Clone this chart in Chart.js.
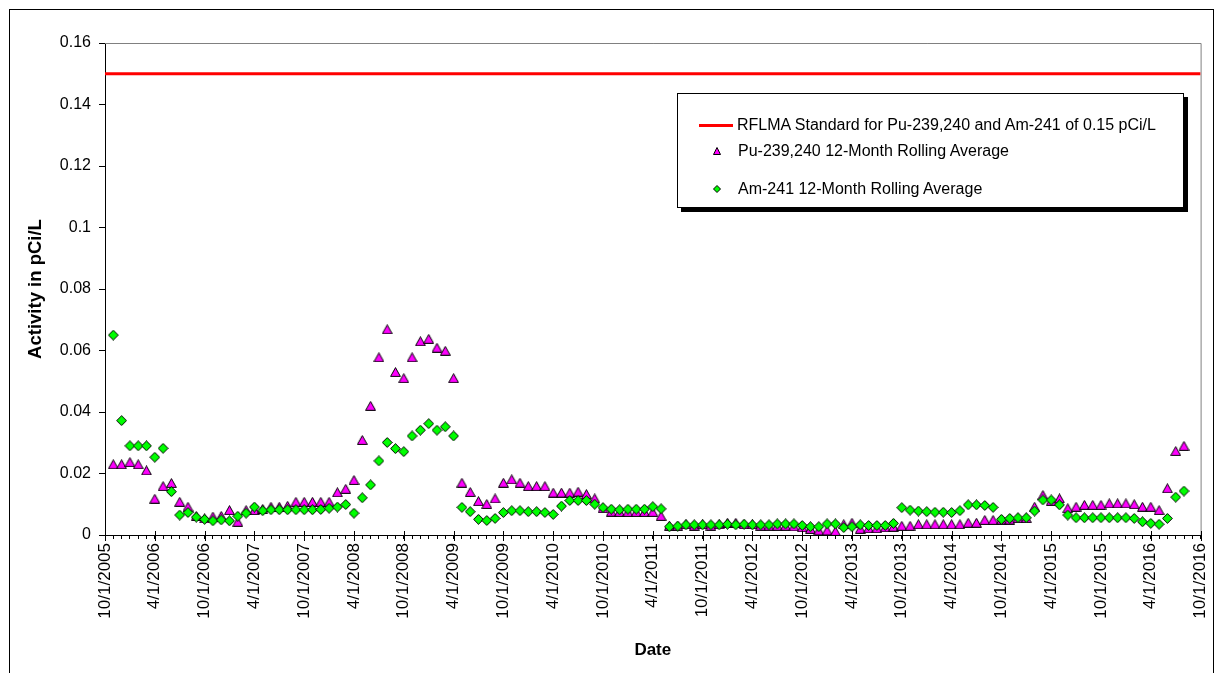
<!DOCTYPE html>
<html>
<head>
<meta charset="utf-8">
<title>Pu-239,240 and Am-241 12-Month Rolling Averages</title>
<script src="https://cdn.jsdelivr.net/npm/chart.js@4.4.1/dist/chart.umd.min.js"></script>
<style>
  html, body { margin: 0; padding: 0; background: #fff; }
  #wrap { position: relative; width: 1225px; height: 673px; overflow: hidden;
          font-family: "Liberation Sans", Arial, sans-serif; }
  #frame { position: absolute; left: 9px; top: 9px; width: 1203px; height: 700px;
           border: 1px solid #000; }
  #chart { position: absolute; left: 0; top: 0; }
  #legend { position: absolute; left: 677px; top: 93px; width: 505px; height: 113px;
            border: 1px solid #000; background: #fff; box-shadow: 4px 4px 0 #000; }
  .lg-text { position: absolute; left: 60px; height: 20px; line-height: 20px;
             font-size: 16px; color: #000; white-space: nowrap; }
  .lg-mark { position: absolute; }
</style>
</head>
<body>
<div id="wrap">
  <div id="frame"></div>
  <canvas id="chart" width="1225" height="673"></canvas>
  <div id="legend">
    <div class="lg-mark" style="left:21px; top:30px; width:34px; height:3px; background:#ff0000;"></div>
    <div class="lg-text" style="top:21px; left:59px;">RFLMA Standard for Pu-239,240 and Am-241 of 0.15 pCi/L</div>
    <svg class="lg-mark" style="left:35px; top:53px;" width="8" height="8" viewBox="0 0 8 8">
      <polygon points="4,0.5 7.5,7.5 0.5,7.5" fill="#ff00ff" stroke="#000" stroke-width="1"/>
    </svg>
    <div class="lg-text" style="top:47px;">Pu-239,240 12-Month Rolling Average</div>
    <svg class="lg-mark" style="left:35px; top:91px;" width="8" height="8" viewBox="0 0 8 8">
      <polygon points="4,0.5 7.5,4 4,7.5 0.5,4" fill="#00ff00" stroke="#000" stroke-width="1"/>
    </svg>
    <div class="lg-text" style="top:85px;">Am-241 12-Month Rolling Average</div>
  </div>
</div>
<script>
// Date axis tick labels, every six months
const xTickLabels = [
  '10/1/2005', '4/1/2006', '10/1/2006', '4/1/2007', '10/1/2007', '4/1/2008',
  '10/1/2008', '4/1/2009', '10/1/2009', '4/1/2010', '10/1/2010', '4/1/2011',
  '10/1/2011', '4/1/2012', '10/1/2012', '4/1/2013', '10/1/2013', '4/1/2014',
  '10/1/2014', '4/1/2015', '10/1/2015', '4/1/2016', '10/1/2016'
];
const axisStart = { year: 2005, month: 10 };
const axisMonths = 132;

// Monthly sample dates, 11/1/2005 through 8/1/2016
const sampleDates = [];
for (let y = 2005, m = 11; sampleDates.length < 130; m++) {
  if (m > 12) { m = 1; y++; }
  sampleDates.push(m + '/1/' + y);
}

// Pu-239,240 12-month rolling average (pCi/L)
const puRolling = [
  0.023, 0.023, 0.0237, 0.023, 0.021, 0.0118, 0.0159, 0.0169, 0.0108, 0.0092,
  0.0062, 0.0054, 0.006, 0.0062, 0.0081, 0.0043, 0.0081, 0.0081, 0.0085, 0.0092,
  0.0092, 0.0095, 0.0108, 0.0108, 0.0108, 0.0108, 0.0108, 0.0139, 0.015, 0.0179,
  0.0309, 0.042, 0.0578, 0.0669,
  0.053, 0.051, 0.0578, 0.063, 0.0638, 0.0609, 0.0599, 0.051,
  0.017, 0.014, 0.011, 0.0101, 0.0119, 0.017, 0.0181, 0.017, 0.0159, 0.0159,
  0.0159, 0.0138, 0.0138, 0.0138, 0.0141, 0.0133, 0.0119,
  0.0087, 0.0076, 0.0075, 0.0075, 0.0075, 0.0075, 0.0075, 0.0062,
  0.003, 0.003, 0.0035, 0.003, 0.0035, 0.003, 0.0035, 0.004, 0.004, 0.0035,
  0.0035, 0.003, 0.003, 0.003, 0.003, 0.0028, 0.0025, 0.002, 0.0015, 0.0015,
  0.0012, 0.0035, 0.004, 0.002, 0.0022, 0.0022, 0.0025, 0.0027, 0.003, 0.003,
  0.0035, 0.0035, 0.0035, 0.0035, 0.0035, 0.0035, 0.004, 0.004, 0.0049, 0.0049,
  0.005,
  0.005, 0.0055, 0.0055, 0.0092, 0.013, 0.0111, 0.0119, 0.0087, 0.0092, 0.0098,
  0.0098, 0.0098, 0.0103, 0.0103, 0.0103, 0.01, 0.0092, 0.0092, 0.0081, 0.0152,
  0.0273, 0.029
];

// Am-241 12-month rolling average (pCi/L)
const amRolling = [
  0.065, 0.0372, 0.029, 0.029, 0.029, 0.0253, 0.0282, 0.0141, 0.0065, 0.0073,
  0.0058, 0.0051, 0.0046, 0.0049, 0.0046, 0.0061, 0.0071, 0.0091, 0.0079, 0.0082,
  0.0082, 0.0082, 0.0082, 0.0082, 0.0082, 0.0083, 0.0087, 0.0091, 0.0099, 0.0071,
  0.0121, 0.0163, 0.0241, 0.0301,
  0.0281, 0.0271, 0.0322, 0.0341, 0.0362, 0.0341, 0.0352, 0.0322,
  0.009, 0.0076, 0.0051, 0.0047, 0.0054, 0.0073, 0.0079, 0.0079, 0.0076, 0.0076,
  0.0073, 0.0067, 0.0094, 0.0112, 0.0112, 0.0112, 0.01, 0.0089, 0.0084, 0.0082,
  0.0084, 0.0084, 0.0084, 0.0092, 0.0085,
  0.0027, 0.0029, 0.0033, 0.0033, 0.0033, 0.0033, 0.0033, 0.0035, 0.0033, 0.0035,
  0.0033, 0.0033, 0.0033,
  0.0036, 0.0036, 0.0036, 0.0031, 0.0027, 0.0027, 0.0036, 0.0036, 0.0024, 0.0027,
  0.0033, 0.0031, 0.0031, 0.0031, 0.0038, 0.0089, 0.0081, 0.0078, 0.0076, 0.0074,
  0.0074, 0.0073, 0.0079, 0.0098, 0.0098, 0.0096, 0.009, 0.0051,
  0.0054, 0.0056, 0.0056, 0.0078, 0.0114, 0.0114, 0.0098, 0.0065, 0.0056, 0.0056,
  0.0056, 0.0056, 0.0056, 0.0056, 0.0056, 0.0054, 0.0043, 0.0038, 0.0035, 0.0054,
  0.0123, 0.0143
];

// RFLMA standard for Pu-239,240 and Am-241 (pCi/L)
const standardLimit = 0.15;

const yMax = 0.16;
const yStep = 0.02;

const FONT = '"Liberation Sans", Arial, sans-serif';

function monthIndex(dateStr) {
  const [m, , y] = dateStr.split('/').map(Number);
  return (y - axisStart.year) * 12 + (m - axisStart.month);
}

// Marker images drawn centred on their box, Excel style
function marker(shape, fill) {
  const c = document.createElement('canvas');
  const w = 11, h = shape === 'triangle' ? 10 : 11;
  c.width = w; c.height = h;
  const g = c.getContext('2d');
  g.beginPath();
  if (shape === 'triangle') {
    g.moveTo(w / 2, 0.6); g.lineTo(w - 0.6, h - 0.6); g.lineTo(0.6, h - 0.6);
  } else {
    g.moveTo(w / 2, 0.6); g.lineTo(w - 0.6, h / 2); g.lineTo(w / 2, h - 0.6); g.lineTo(0.6, h / 2);
  }
  g.closePath();
  g.fillStyle = fill; g.fill();
  g.lineWidth = 1; g.strokeStyle = '#000'; g.stroke();
  return c;
}

const puPoints = puRolling.map((v, i) => ({ x: monthIndex(sampleDates[i]), y: v }));
const amPoints = amRolling.map((v, i) => ({ x: monthIndex(sampleDates[i]), y: v }));

// Plot-area frame (gray top/right) and the longer half-year tick marks
const framePlugin = {
  id: 'plotFrame',
  beforeDatasetsDraw(chart) {
    const { ctx, chartArea: a } = chart;
    ctx.save();
    ctx.strokeStyle = '#808080';
    ctx.lineWidth = 1;
    ctx.beginPath();
    ctx.moveTo(a.left, a.top + 0.5); ctx.lineTo(a.right + 0.5, a.top + 0.5);
    ctx.lineTo(a.right + 0.5, a.bottom);
    ctx.stroke();
    ctx.restore();
  },
  afterDraw(chart) {
    const { ctx } = chart;
    const xs = chart.scales.x;
    ctx.save();
    ctx.strokeStyle = '#000';
    ctx.lineWidth = 1;
    ctx.beginPath();
    for (let v = 0; v <= axisMonths; v += 6) {
      const px = Math.round(xs.getPixelForValue(v)) + 0.5;
      ctx.moveTo(px, xs.top - 4); ctx.lineTo(px, xs.top + 6);
    }
    ctx.stroke();
    ctx.restore();
  }
};

new Chart(document.getElementById('chart'), {
  type: 'scatter',
  data: {
    datasets: [
      {
        label: 'RFLMA Standard for Pu-239,240 and Am-241 of 0.15 pCi/L',
        data: [{ x: 0, y: standardLimit }, { x: axisMonths, y: standardLimit }],
        showLine: true,
        borderColor: '#ff0000',
        borderWidth: 3,
        pointRadius: 0,
        order: 3
      },
      {
        label: 'Pu-239,240 12-Month Rolling Average',
        data: puPoints,
        pointStyle: marker('triangle', '#ff00ff'),
        pointRadius: 6,
        order: 2
      },
      {
        label: 'Am-241 12-Month Rolling Average',
        data: amPoints,
        pointStyle: marker('diamond', '#00ff00'),
        pointRadius: 6,
        order: 1
      }
    ]
  },
  options: {
    responsive: false,
    animation: false,
    events: [],
    layout: { padding: { top: 43, right: 21, bottom: 0, left: 0 } },
    plugins: { legend: { display: false }, tooltip: { enabled: false } },
    scales: {
      x: {
        type: 'linear',
        min: 0,
        max: axisMonths,
        afterFit(scale) { scale.height = 138; },
        border: { display: true, color: '#000', width: 1 },
        grid: { drawOnChartArea: false, drawTicks: true, tickLength: 4, color: '#000' },
        ticks: {
          stepSize: 1,
          autoSkip: false,
          minRotation: 90,
          maxRotation: 90,
          padding: 4,
          color: '#000',
          font: { family: FONT, size: 17 },
          callback(v) { return v % 6 === 0 ? xTickLabels[v / 6] : ''; }
        },
        title: {
          display: true,
          text: 'Date',
          color: '#000',
          font: { family: FONT, size: 17, weight: 'bold' },
          padding: { top: 0, bottom: 12 }
        }
      },
      y: {
        min: 0,
        max: yMax,
        afterFit(scale) { scale.width = 105; },
        border: { display: true, color: '#000', width: 1 },
        grid: { drawOnChartArea: false, drawTicks: true, tickLength: 6, color: '#000' },
        ticks: {
          stepSize: yStep,
          padding: 8,
          color: '#000',
          font: { family: FONT, size: 16 },
          callback(v) { return String(Math.round(v * 100) / 100); }
        },
        title: {
          display: true,
          text: 'Activity in pCi/L',
          color: '#000',
          font: { family: FONT, size: 18.5, weight: 'bold' },
          padding: { top: 25, bottom: 0 }
        }
      }
    }
  },
  plugins: [framePlugin]
});
</script>
</body>
</html>
